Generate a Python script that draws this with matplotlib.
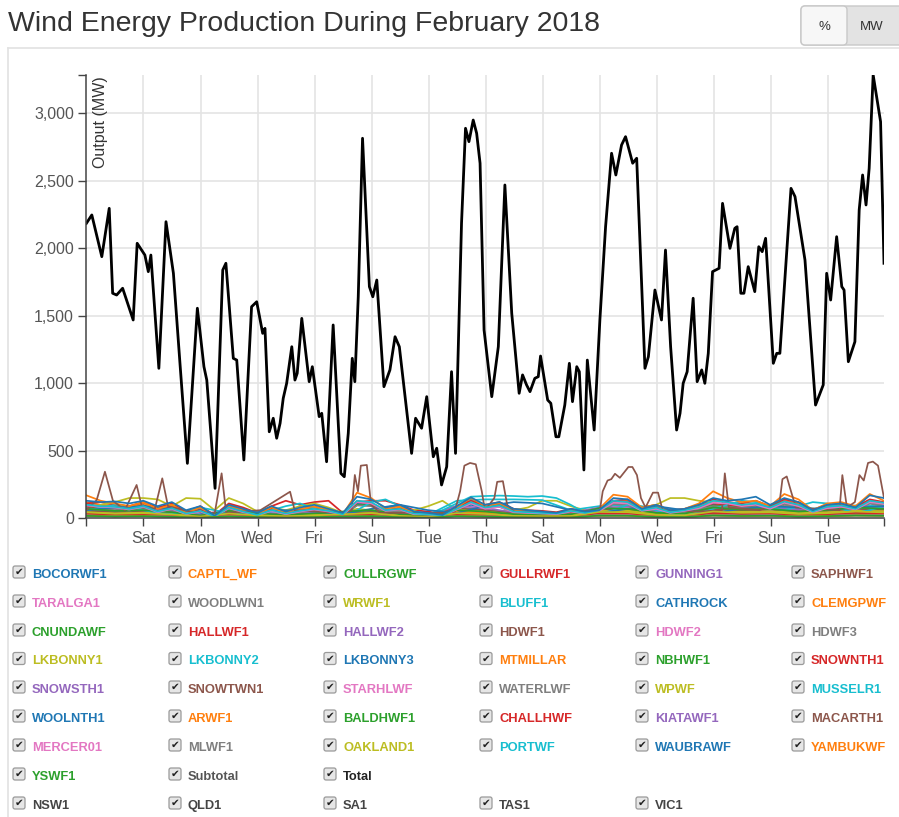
import numpy as np
import matplotlib
matplotlib.use("Agg")
import matplotlib.pyplot as plt
from matplotlib.patches import FancyBboxPatch
from matplotlib.lines import Line2D
from matplotlib.ticker import FuncFormatter
import matplotlib.transforms as mtrans

plt.rcParams['font.family'] = ['Liberation Sans', 'DejaVu Sans']

W, H = 899, 817
END = 27.96  # days after 1 Feb 00:00 of the last reading

# ---- Total (MW): day offset, value
total_day = [0.00, 0.19, 0.54, 0.80, 0.92, 1.06, 1.27, 1.64, 1.78, 2.05, 2.17, 2.26,
             2.54, 2.79, 3.05, 3.28, 3.54, 3.89, 4.12, 4.22, 4.51, 4.78, 4.89, 5.15,
             5.27, 5.52, 5.79, 5.97, 6.18, 6.26, 6.41, 6.55, 6.67, 6.79, 6.90, 7.02,
             7.20, 7.31, 7.39, 7.55, 7.81, 7.92, 8.16, 8.25, 8.42, 8.65, 8.92, 9.04,
             9.18, 9.32, 9.41, 9.53, 9.68, 9.92, 10.04, 10.18, 10.43, 10.64, 10.82, 10.97,
             11.17, 11.40, 11.54, 11.75, 11.93, 12.16, 12.28, 12.45, 12.63, 12.80, 12.94, 13.15,
             13.29, 13.41, 13.56, 13.68, 13.80, 13.94, 14.21, 14.44, 14.67, 14.91, 15.17, 15.29,
             15.43, 15.55, 15.72, 15.84, 15.92, 16.17, 16.28, 16.46, 16.56, 16.77, 16.93, 17.04,
             17.19, 17.28, 17.44, 17.56, 17.80, 18.00, 18.20, 18.41, 18.56, 18.76, 18.90, 19.15,
             19.29, 19.58, 19.70, 19.93, 20.16, 20.30, 20.48, 20.69, 20.81, 20.92, 21.06, 21.27,
             21.41, 21.57, 21.68, 21.80, 21.95, 22.18, 22.30, 22.56, 22.73, 22.81, 22.94, 23.05,
             23.20, 23.43, 23.57, 23.69, 23.81, 24.08, 24.20, 24.31, 24.70, 24.84, 25.19, 25.56,
             25.83, 25.95, 26.09, 26.30, 26.48, 26.56, 26.71, 26.94, 27.09, 27.21, 27.33, 27.44,
             27.58, 27.84, 27.96]
total_mw = [2185, 2247, 1938, 2296, 1667, 1654, 1704, 1469, 2037, 1950, 1827, 1950,
            1111, 2197, 1815, 1148, 407, 1556, 1123, 1024, 222, 1839, 1889, 1185,
            1172, 432, 1567, 1604, 1370, 1407, 641, 741, 593, 704, 889, 1000,
            1271, 1024, 1074, 1481, 1012, 1123, 753, 778, 419, 1432, 333, 308,
            630, 1185, 1012, 1641, 2815, 1716, 1641, 1765, 975, 1099, 1345, 1271,
            901, 481, 741, 667, 901, 456, 519, 247, 382, 1086, 481, 2185,
            2889, 2790, 2950, 2852, 2630, 1395, 901, 1271, 2469, 1519, 926, 1062,
            988, 938, 1037, 1049, 1202, 876, 852, 604, 604, 839, 1148, 864,
            1123, 1086, 358, 1172, 654, 1469, 2160, 2704, 2543, 2765, 2827, 2630,
            2667, 1111, 1197, 1691, 1469, 1987, 1271, 654, 778, 1000, 1086, 1630,
            1012, 1099, 1000, 1222, 1827, 1852, 2333, 2000, 2148, 2160, 1667, 1667,
            1864, 1679, 2012, 1975, 2074, 1148, 1222, 1222, 2444, 2383, 1913, 839,
            988, 1815, 1617, 2086, 1716, 1691, 1160, 1308, 2284, 2543, 2321, 2593,
            3284, 2938, 1889]

# ---- MACARTH1 (the tall brown series)
macarth1_day = [0.0, 0.36, 0.65, 0.93, 1.35, 1.76, 1.95, 2.4, 2.66, 2.86, 3.63, 4.5,
                4.74, 4.9, 6.1, 7.14, 7.3, 8.9, 9.3, 9.41, 9.52, 9.62, 9.83, 9.98,
                10.3, 12.9, 13.1, 13.25, 13.45, 13.65, 13.86, 13.97, 14.3, 14.4, 14.6, 14.75,
                15.0, 16.6, 18.0, 18.1, 18.27, 18.4, 18.53, 18.7, 18.85, 19.0, 19.14, 19.3,
                19.44, 19.6, 19.86, 20.04, 20.2, 21.5, 22.28, 22.38, 22.52, 23.6, 24.3, 24.4,
                24.55, 24.7, 24.87, 26.4, 26.5, 26.66, 26.94, 27.1, 27.25, 27.4, 27.57, 27.75,
                27.96]
macarth1_mw = [60, 135, 345, 130, 60, 247, 80, 70, 296, 90, 50, 40,
               333, 40, 60, 197, 60, 40, 60, 321, 200, 390, 395, 100,
               40, 40, 200, 390, 410, 400, 200, 60, 150, 270, 275, 100,
               50, 40, 60, 200, 280, 290, 330, 300, 340, 380, 380, 320,
               150, 80, 190, 190, 60, 50, 60, 333, 80, 60, 120, 290,
               310, 200, 80, 60, 320, 80, 120, 320, 280, 410, 420, 390,
               150]

# ---- 12-hourly series (57 readings)
arwf1 = [170, 130, 110, 90, 120, 70, 100, 40, 80, 15, 90, 60, 30, 80, 40, 70, 90, 60, 30, 190,
         150, 70, 90, 40, 35, 20, 80, 150, 90, 110, 60, 50, 40, 30, 60, 40, 70, 175, 160, 80,
         100, 50, 70, 110, 200, 150, 120, 130, 90, 180, 140, 60, 110, 120, 90, 180, 130]
waubrawf = [130, 120, 125, 110, 130, 90, 120, 60, 90, 20, 100, 70, 40, 90, 50, 80, 100, 70, 40, 160,
            140, 80, 100, 50, 40, 25, 90, 155, 100, 120, 70, 60, 50, 40, 70, 50, 60, 150, 140, 70,
            100, 60, 70, 100, 150, 130, 140, 160, 100, 150, 120, 60, 100, 110, 80, 170, 150]
musselr1 = [60, 80, 100, 90, 60, 40, 30, 50, 80, 60, 40, 20, 30, 60, 90, 110, 70, 40, 20, 60,
            120, 140, 90, 50, 30, 60, 110, 160, 165, 168, 165, 160, 165, 150, 100, 40, 30, 60, 100, 90,
            60, 30, 20, 40, 70, 100, 130, 120, 80, 60, 90, 120, 110, 70, 40, 60, 90]
wrwf1 = [60, 100, 120, 150, 150, 140, 90, 150, 145, 60, 150, 110, 50, 80, 60, 90, 110, 80, 40, 70,
         60, 40, 50, 60, 90, 130, 60, 40, 30, 50, 60, 80, 130, 130, 90, 60, 50, 40, 60, 80,
         100, 150, 150, 130, 120, 80, 60, 50, 70, 90, 80, 60, 70, 90, 80, 60, 50]
captl_wf = [120, 100, 95, 85, 110, 70, 100, 50, 80, 20, 100, 70, 35, 85, 45, 60, 80, 60, 30, 130,
            110, 60, 80, 45, 40, 25, 80, 120, 90, 100, 55, 50, 45, 35, 55, 45, 60, 120, 130, 70,
            90, 50, 60, 90, 130, 120, 100, 110, 80, 130, 110, 55, 90, 100, 75, 130, 110]
gullrwf1 = [110, 120, 100, 90, 120, 80, 110, 50, 90, 25, 110, 80, 40, 90, 130, 100, 120, 130, 40, 120,
            130, 130, 100, 60, 50, 30, 90, 140, 100, 120, 70, 60, 55, 45, 70, 55, 70, 130, 140, 80,
            100, 60, 70, 100, 140, 120, 110, 130, 90, 140, 120, 65, 100, 110, 85, 140, 120]
bocorwf1 = [100, 95, 90, 80, 100, 60, 90, 40, 70, 15, 85, 60, 30, 70, 40, 60, 75, 55, 25, 110,
            100, 50, 70, 35, 30, 20, 65, 100, 75, 85, 45, 40, 35, 30, 45, 35, 50, 100, 105, 55,
            75, 40, 55, 75, 105, 95, 90, 100, 70, 105, 90, 45, 75, 85, 65, 110, 95]
snownth1 = [90, 80, 85, 70, 90, 60, 80, 40, 60, 15, 80, 55, 30, 70, 40, 55, 70, 50, 25, 120,
            110, 60, 70, 40, 35, 25, 80, 130, 90, 110, 60, 50, 45, 40, 60, 45, 60, 130, 120, 60,
            80, 45, 55, 80, 110, 100, 90, 100, 70, 120, 100, 50, 80, 90, 70, 130, 110]
nbhwf1 = [80, 70, 75, 60, 80, 50, 70, 35, 55, 15, 70, 50, 25, 60, 35, 50, 60, 45, 20, 100,
          95, 50, 60, 35, 30, 20, 70, 115, 80, 95, 50, 45, 40, 35, 50, 40, 55, 110, 105, 50,
          70, 40, 50, 70, 95, 90, 80, 90, 60, 105, 90, 45, 70, 80, 60, 115, 95]
waterlwf = [75, 65, 70, 55, 75, 45, 65, 30, 50, 12, 65, 45, 22, 55, 30, 45, 55, 40, 18, 95,
            90, 45, 55, 30, 28, 18, 65, 110, 75, 90, 45, 40, 38, 32, 45, 38, 50, 105, 100, 48,
            65, 38, 45, 65, 90, 85, 75, 85, 55, 100, 85, 42, 65, 75, 55, 110, 90]
portwf = [100, 90, 85, 70, 90, 50, 75, 35, 55, 15, 80, 50, 25, 60, 35, 55, 70, 55, 30, 130,
          120, 60, 70, 35, 30, 20, 70, 120, 80, 95, 50, 45, 40, 35, 55, 40, 60, 130, 120, 60,
          80, 45, 60, 85, 130, 120, 100, 110, 80, 125, 100, 50, 85, 95, 70, 130, 115]
mercer01 = [95, 85, 80, 65, 85, 45, 70, 30, 50, 12, 75, 45, 22, 55, 30, 50, 65, 50, 25, 120,
            110, 55, 65, 30, 28, 18, 65, 110, 70, 85, 45, 40, 35, 30, 50, 35, 55, 115, 110, 55,
            70, 40, 55, 75, 115, 110, 90, 100, 70, 115, 90, 45, 75, 85, 65, 120, 105]

# ---- daily series (29 readings)
cullrgwf = [22, 18, 20, 15, 8, 18, 10, 8, 10, 10, 14, 9, 5, 22, 17, 10, 8, 9, 18, 20, 12, 11, 20, 17, 19, 15, 16, 20, 19]
gunning1 = [35, 28, 30, 24, 12, 28, 18, 14, 18, 17, 24, 15, 9, 36, 30, 17, 14, 16, 30, 33, 20, 19, 33, 30, 32, 25, 27, 33, 31]
saphwf1 = [20, 15, 18, 14, 6, 15, 10, 8, 10, 10, 14, 8, 5, 25, 20, 10, 8, 9, 20, 25, 14, 12, 25, 22, 24, 18, 20, 26, 24]
taralga1 = [75, 60, 65, 55, 25, 65, 40, 30, 40, 38, 50, 35, 18, 80, 65, 38, 30, 35, 70, 75, 45, 42, 75, 68, 72, 55, 62, 75, 70]
woodlwn1 = [35, 28, 30, 25, 12, 30, 18, 14, 18, 18, 24, 16, 9, 36, 30, 17, 14, 16, 30, 34, 21, 19, 34, 30, 32, 26, 28, 34, 32]
bluff1 = [30, 25, 30, 25, 12, 25, 18, 15, 20, 20, 25, 18, 10, 40, 35, 22, 18, 20, 35, 38, 22, 20, 35, 30, 33, 28, 30, 36, 34]
cathrock = [40, 32, 35, 28, 15, 32, 22, 18, 24, 24, 30, 20, 12, 48, 40, 25, 20, 22, 42, 46, 28, 25, 44, 38, 42, 34, 37, 45, 42]
clemgpwf = [35, 28, 30, 25, 12, 28, 20, 15, 20, 20, 28, 18, 10, 42, 35, 20, 16, 18, 36, 40, 24, 22, 38, 34, 36, 30, 32, 40, 37]
cnundawf = [28, 22, 25, 20, 10, 22, 15, 12, 16, 16, 22, 14, 8, 34, 28, 16, 13, 15, 30, 32, 20, 18, 30, 27, 29, 24, 26, 32, 30]
hallwf1 = [55, 45, 50, 40, 20, 48, 32, 25, 34, 32, 45, 30, 16, 70, 58, 32, 26, 30, 60, 65, 38, 35, 62, 55, 60, 48, 52, 64, 60]
hallwf2 = [42, 34, 38, 30, 15, 36, 24, 19, 25, 24, 34, 22, 12, 52, 43, 24, 20, 23, 45, 48, 28, 26, 46, 41, 45, 36, 39, 48, 45]
hdwf1 = [60, 48, 55, 45, 22, 52, 35, 28, 36, 35, 48, 32, 18, 75, 62, 35, 28, 32, 65, 70, 42, 38, 68, 60, 65, 52, 56, 70, 66]
hdwf2 = [58, 47, 54, 44, 21, 50, 34, 27, 35, 34, 47, 31, 17, 74, 60, 34, 27, 31, 64, 68, 41, 37, 66, 58, 63, 50, 55, 68, 64]
hdwf3 = [62, 50, 57, 47, 23, 54, 36, 29, 37, 36, 50, 33, 18, 78, 64, 36, 29, 33, 68, 72, 43, 40, 70, 62, 67, 54, 58, 72, 68]
lkbonny1 = [40, 32, 38, 30, 15, 35, 25, 20, 26, 25, 35, 22, 12, 55, 45, 25, 20, 23, 48, 50, 30, 28, 48, 42, 46, 38, 40, 50, 47]
lkbonny2 = [70, 55, 65, 50, 25, 60, 40, 35, 45, 45, 60, 40, 25, 130, 140, 140, 135, 60, 90, 100, 55, 50, 90, 80, 85, 70, 75, 95, 90]
lkbonny3 = [20, 16, 19, 15, 8, 18, 12, 10, 13, 12, 17, 11, 6, 28, 23, 13, 10, 12, 24, 25, 15, 14, 24, 21, 23, 19, 20, 25, 24]
mtmillar = [38, 30, 34, 28, 14, 33, 22, 18, 23, 22, 32, 20, 11, 50, 40, 22, 18, 21, 43, 46, 26, 24, 44, 39, 42, 34, 36, 46, 43]
snowsth1 = [70, 57, 66, 55, 26, 63, 42, 33, 44, 43, 60, 40, 22, 92, 76, 44, 35, 40, 80, 86, 51, 47, 84, 74, 80, 64, 69, 86, 81]
snowtwn1 = [55, 45, 52, 43, 20, 50, 33, 26, 35, 34, 47, 31, 17, 72, 60, 34, 27, 31, 63, 67, 40, 37, 66, 58, 63, 50, 54, 68, 64]
starhlwf = [20, 16, 18, 15, 7, 17, 11, 9, 12, 12, 16, 11, 6, 25, 21, 12, 9, 11, 22, 23, 14, 13, 23, 20, 22, 17, 19, 23, 22]
wpwf = [45, 36, 42, 34, 17, 40, 28, 22, 29, 28, 39, 25, 14, 62, 50, 28, 22, 26, 54, 57, 34, 31, 54, 48, 52, 42, 45, 56, 53]
woolnth1 = [60, 80, 90, 70, 40, 30, 45, 60, 50, 30, 70, 100, 60, 40, 90, 120, 110, 60, 40, 70, 90, 60, 40, 70, 90, 80, 60, 80, 90]
baldhwf1 = [70, 55, 60, 45, 20, 55, 35, 25, 35, 50, 60, 30, 15, 60, 50, 30, 25, 28, 75, 70, 40, 35, 80, 65, 70, 50, 60, 80, 70]
challhwf = [35, 28, 30, 22, 10, 28, 18, 12, 18, 26, 30, 15, 8, 30, 26, 15, 12, 14, 38, 36, 20, 18, 40, 33, 36, 26, 30, 40, 36]
kiatawf1 = [20, 16, 18, 13, 6, 16, 10, 7, 10, 15, 18, 9, 5, 18, 15, 9, 7, 8, 22, 21, 12, 10, 23, 19, 21, 15, 18, 23, 21]
mlwf1 = [19, 15, 17, 12, 6, 15, 10, 7, 10, 14, 17, 8, 4, 17, 14, 8, 7, 8, 21, 20, 11, 10, 22, 18, 20, 14, 17, 22, 20]
oakland1 = [44, 34, 38, 28, 13, 35, 22, 15, 22, 30, 38, 18, 9, 38, 32, 18, 15, 17, 47, 45, 25, 22, 50, 41, 44, 32, 38, 50, 44]
yambukwf = [20, 15, 17, 12, 6, 15, 10, 7, 10, 14, 17, 8, 4, 17, 14, 8, 7, 8, 21, 20, 11, 10, 22, 18, 20, 14, 17, 22, 20]
yswf1 = [18, 14, 16, 11, 5, 14, 9, 6, 9, 13, 16, 8, 4, 16, 13, 8, 6, 7, 20, 19, 10, 9, 21, 17, 19, 13, 16, 21, 19]

tick_days = [2, 4, 6, 8, 10, 12, 14, 16, 18, 20, 22, 24, 26]
tick_names = ['Sat', 'Mon', 'Wed', 'Fri', 'Sun', 'Tue', 'Thu', 'Sat', 'Mon', 'Wed', 'Fri', 'Sun', 'Tue']
y_ticks = [0, 500, 1000, 1500, 2000, 2500, 3000]

farms = [
    ('BOCORWF1', bocorwf1), ('CAPTL_WF', captl_wf), ('CULLRGWF', cullrgwf), ('GULLRWF1', gullrwf1),
    ('GUNNING1', gunning1), ('SAPHWF1', saphwf1), ('TARALGA1', taralga1), ('WOODLWN1', woodlwn1),
    ('WRWF1', wrwf1), ('BLUFF1', bluff1), ('CATHROCK', cathrock), ('CLEMGPWF', clemgpwf),
    ('CNUNDAWF', cnundawf), ('HALLWF1', hallwf1), ('HALLWF2', hallwf2), ('HDWF1', hdwf1),
    ('HDWF2', hdwf2), ('HDWF3', hdwf3), ('LKBONNY1', lkbonny1), ('LKBONNY2', lkbonny2),
    ('LKBONNY3', lkbonny3), ('MTMILLAR', mtmillar), ('NBHWF1', nbhwf1), ('SNOWNTH1', snownth1),
    ('SNOWSTH1', snowsth1), ('SNOWTWN1', snowtwn1), ('STARHLWF', starhlwf), ('WATERLWF', waterlwf),
    ('WPWF', wpwf), ('MUSSELR1', musselr1), ('WOOLNTH1', woolnth1), ('ARWF1', arwf1),
    ('BALDHWF1', baldhwf1), ('CHALLHWF', challhwf), ('KIATAWF1', kiatawf1), ('MACARTH1', macarth1_mw),
    ('MERCER01', mercer01), ('MLWF1', mlwf1), ('OAKLAND1', oakland1), ('PORTWF', portwf),
    ('WAUBRAWF', waubrawf), ('YAMBUKWF', yambukwf), ('YSWF1', yswf1),
]
regions = ['NSW1', 'QLD1', 'SA1', 'TAS1', 'VIC1']
palette = ['#1f77b4', '#ff7f0e', '#2ca02c', '#d62728', '#9467bd',
           '#8c564b', '#e377c2', '#7f7f7f', '#bcbd22', '#17becf']

fig = plt.figure(figsize=(W / 100, H / 100), dpi=100)
# pixel transform, origin top-left
px = mtrans.Affine2D().scale(1 / W, -1 / H).translate(0, 1) + fig.transFigure

ymax = max(total_mw)
top_px = 518.3 - ymax * 0.135
ax = fig.add_axes([86.4 / W, 1 - 518.3 / H, (884 - 86.4) / W, (518.3 - top_px) / H])

for i, (name, vals) in enumerate(farms):
    if name == 'MACARTH1':
        t = macarth1_day
    else:
        t = np.linspace(0, END, len(vals))
    ax.plot(t, vals, color=palette[i % 10], lw=1.25, solid_joinstyle='round')
ax.plot(total_day, total_mw, color='black', lw=2.0, solid_joinstyle='round')

ax.set_xlim(0, END)
ax.set_ylim(0, ymax)
ax.set_xticks(tick_days)
ax.set_xticklabels(tick_names)
ax.set_yticks(y_ticks)
ax.yaxis.set_major_formatter(FuncFormatter(lambda v, p: f'{int(v):,}'))
ax.set_xticks([0, END], minor=True)
ax.set_yticks([ymax], minor=True)
ax.tick_params(which='both', direction='out', length=6, width=1, color='#444',
               labelsize=11.5, labelcolor='#555', pad=3)
ax.grid(True, which='major', color='#e4e4e4', lw=1.2)
ax.set_axisbelow(True)
for s in ['top', 'right']:
    ax.spines[s].set_visible(False)
for s in ['left', 'bottom']:
    ax.spines[s].set_color('#444')
    ax.spines[s].set_linewidth(1.1)

fig.text(101, 76, 'Output (MW)', transform=px, rotation=90, ha='center', va='top',
         fontsize=11.5, color='#333')

# title and panel
fig.text(8, 24, 'Wind Energy Production During February 2018', transform=px,
         fontsize=20.5, color='#333', va='center', ha='left')
fig.add_artist(Line2D([8, W], [48, 48], transform=px, color='#e2e2e2', lw=1.2))
fig.add_artist(Line2D([8, 8], [48, H], transform=px, color='#e2e2e2', lw=1.2))

# % / MW toggle
fig.add_artist(FancyBboxPatch((801, 6), 120, 39, boxstyle='round,pad=0,rounding_size=4',
                              transform=px, fc='#e3e3e3', ec='#c8c8c8', lw=1))
fig.add_artist(FancyBboxPatch((801, 6), 46, 39, boxstyle='round,pad=0,rounding_size=4',
                              transform=px, fc='#f7f7f7', ec='#c8c8c8', lw=1))
fig.text(824, 27, '%', transform=px, ha='center', va='center', fontsize=9.5, color='#333')
fig.text(872, 27, 'MW', transform=px, ha='center', va='center', fontsize=9.5, color='#333')

# checkbox legend
col_x = [32, 188, 343, 499, 655, 811]
row_y = [575, 604, 633, 661.5, 690, 719, 748, 777, 806]


def checkbox(x, y, label, color):
    fig.add_artist(FancyBboxPatch((x - 19, y - 9), 12, 12,
                                  boxstyle='round,pad=0,rounding_size=2', transform=px,
                                  fc='#e6e6e6', ec='#9a9a9a', lw=0.9))
    fig.text(x - 13, y - 3, '\u2714', transform=px, ha='center', va='center',
             fontsize=7.5, color='#222', family=['DejaVu Sans'])
    fig.text(x, y, label, transform=px, ha='left', va='center', fontsize=9.3,
             fontweight='bold', color=color)


entries = [(name, palette[i % 10]) for i, (name, _) in enumerate(farms)]
entries += [('Subtotal', '#555555'), ('Total', '#222222')]
for k, (name, color) in enumerate(entries):
    checkbox(col_x[k % 6], row_y[k // 6], name, color)
for k, name in enumerate(regions):
    checkbox(col_x[k], row_y[8], name, '#444444')

fig.savefig('out.png', dpi=100)
